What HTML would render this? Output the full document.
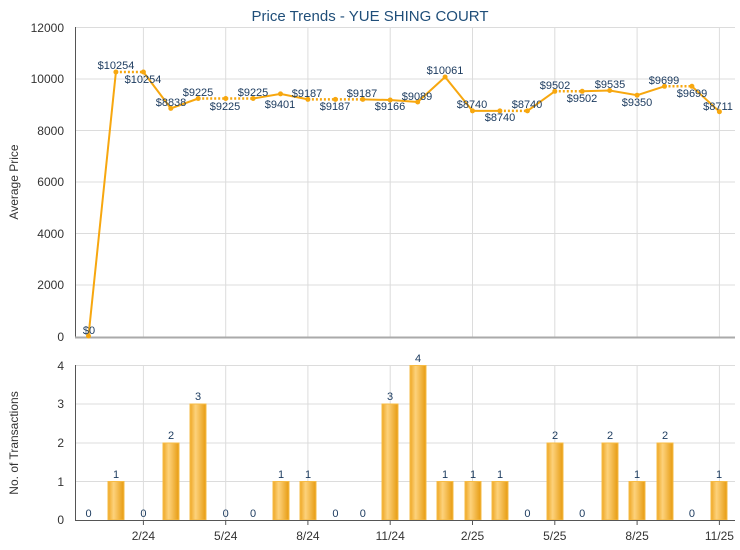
<!DOCTYPE html>
<html><head><meta charset="utf-8"><style>
body{margin:0;background:#fff;}
svg{display:block;font-family:"Liberation Sans",Arial,sans-serif;}
.t{font-size:12px;fill:#333;}
.d{font-size:11px;fill:#1b3a5e;}
</style></head><body>
<svg width="740" height="550" viewBox="0 0 740 550">
<defs>
<linearGradient id="bg" x1="0" x2="1" y1="0" y2="0">
<stop offset="0" stop-color="#eea623"/><stop offset="0.35" stop-color="#fdd27c"/><stop offset="1" stop-color="#e79b10"/>
</linearGradient>
</defs>
<text x="370" y="21" text-anchor="middle" font-size="15" fill="#1f4e79">Price Trends - YUE SHING COURT</text>
<!-- top grid -->
<g stroke="#dcdcdc" stroke-width="1">
<line x1="75" x2="735" y1="27.5" y2="27.5"/><line x1="75" x2="735" y1="79" y2="79"/><line x1="75" x2="735" y1="130.5" y2="130.5"/><line x1="75" x2="735" y1="182" y2="182"/><line x1="75" x2="735" y1="233.5" y2="233.5"/><line x1="75" x2="735" y1="285" y2="285"/>
<line x1="143.4" x2="143.4" y1="27" y2="337"/><line x1="225.7" x2="225.7" y1="27" y2="337"/><line x1="307.9" x2="307.9" y1="27" y2="337"/><line x1="390.2" x2="390.2" y1="27" y2="337"/><line x1="472.5" x2="472.5" y1="27" y2="337"/><line x1="554.8" x2="554.8" y1="27" y2="337"/><line x1="637.1" x2="637.1" y1="27" y2="337"/><line x1="719.4" x2="719.4" y1="27" y2="337"/>
</g>
<line x1="75.5" x2="75.5" y1="27" y2="338" stroke="#555"/>
<line x1="75" x2="735" y1="337.5" y2="337.5" stroke="#aaa" stroke-width="2"/>
<g class="t" text-anchor="end">
<text x="64" y="32">12000</text><text x="64" y="83">10000</text><text x="64" y="135">8000</text><text x="64" y="186">6000</text><text x="64" y="238">4000</text><text x="64" y="289">2000</text><text x="64" y="341">0</text>
</g>
<text transform="translate(18,182) rotate(-90)" text-anchor="middle" font-size="12" fill="#333">Average Price</text>
<!-- line -->
<g stroke="#f7a70f" stroke-width="2" fill="none">
<polyline points="88.5,336 115.9,72"/>
<polyline points="143.4,72 170.8,108.4 198.2,98.5"/>
<polyline points="253.1,98.5 280.5,93.9 307.9,99.4"/>
<polyline points="362.8,99.4 390.2,100 417.7,102 445.1,77 472.5,110.9 499.9,110.9"/>
<polyline points="527.4,110.9 554.8,91.3"/>
<polyline points="582.2,91.3 609.7,90.5 637.1,95.2 664.5,86.3"/>
<polyline points="691.9,86.3 719.4,111.7"/>
</g>
<g stroke="#f7a70f" stroke-width="2.5" stroke-dasharray="2,2" fill="none">
<polyline points="115.9,72 143.4,72"/>
<polyline points="198.2,98.5 253.1,98.5"/>
<polyline points="307.9,99.4 362.8,99.4"/>
<polyline points="499.9,110.9 527.4,110.9"/>
<polyline points="554.8,91.3 582.2,91.3"/>
<polyline points="664.5,86.3 691.9,86.3"/>
</g>
<g fill="#f7a70f">
<circle cx="88.5" cy="336" r="2.5"/><circle cx="115.9" cy="72" r="2.5"/><circle cx="143.4" cy="72" r="2.5"/><circle cx="170.8" cy="108.4" r="2.5"/><circle cx="198.2" cy="98.5" r="2.5"/><circle cx="225.7" cy="98.5" r="2.5"/><circle cx="253.1" cy="98.5" r="2.5"/><circle cx="280.5" cy="93.9" r="2.5"/><circle cx="307.9" cy="99.4" r="2.5"/><circle cx="335.4" cy="99.4" r="2.5"/><circle cx="362.8" cy="99.4" r="2.5"/><circle cx="390.2" cy="100" r="2.5"/><circle cx="417.7" cy="102" r="2.5"/><circle cx="445.1" cy="77" r="2.5"/><circle cx="472.5" cy="110.9" r="2.5"/><circle cx="499.9" cy="110.9" r="2.5"/><circle cx="527.4" cy="110.9" r="2.5"/><circle cx="554.8" cy="91.3" r="2.5"/><circle cx="582.2" cy="91.3" r="2.5"/><circle cx="609.7" cy="90.5" r="2.5"/><circle cx="637.1" cy="95.2" r="2.5"/><circle cx="664.5" cy="86.3" r="2.5"/><circle cx="691.9" cy="86.3" r="2.5"/><circle cx="719.4" cy="111.7" r="2.5"/>
</g>
<g class="d" text-anchor="middle">
<text x="89" y="334">$0</text>
<text x="116" y="69">$10254</text>
<text x="143" y="83">$10254</text>
<text x="171" y="106">$8838</text>
<text x="198" y="96">$9225</text>
<text x="225" y="110">$9225</text>
<text x="253" y="96">$9225</text>
<text x="280" y="108">$9401</text>
<text x="307" y="97">$9187</text>
<text x="335" y="110">$9187</text>
<text x="362" y="97">$9187</text>
<text x="390" y="110">$9166</text>
<text x="417" y="100">$9089</text>
<text x="445" y="74">$10061</text>
<text x="472" y="108">$8740</text>
<text x="500" y="121">$8740</text>
<text x="527" y="108">$8740</text>
<text x="555" y="89">$9502</text>
<text x="582" y="102">$9502</text>
<text x="610" y="88">$9535</text>
<text x="637" y="106">$9350</text>
<text x="664" y="84">$9699</text>
<text x="692" y="97">$9699</text>
<text x="718" y="110">$8711</text>
</g>
<!-- bottom chart -->
<g stroke="#dcdcdc" stroke-width="1">
<line x1="75" x2="735" y1="365.5" y2="365.5"/><line x1="75" x2="735" y1="404" y2="404"/><line x1="75" x2="735" y1="443" y2="443"/><line x1="75" x2="735" y1="481.5" y2="481.5"/>
<line x1="143.4" x2="143.4" y1="365" y2="520"/><line x1="225.7" x2="225.7" y1="365" y2="520"/><line x1="307.9" x2="307.9" y1="365" y2="520"/><line x1="390.2" x2="390.2" y1="365" y2="520"/><line x1="472.5" x2="472.5" y1="365" y2="520"/><line x1="554.8" x2="554.8" y1="365" y2="520"/><line x1="637.1" x2="637.1" y1="365" y2="520"/><line x1="719.4" x2="719.4" y1="365" y2="520"/>
</g>
<g fill="url(#bg)" stroke="#f6bb45" stroke-width="1">
<rect x="108" y="481.5" width="16" height="38.5"/>
<rect x="163" y="443" width="16" height="77"/>
<rect x="190" y="404" width="16" height="116"/>
<rect x="273" y="481.5" width="16" height="38.5"/>
<rect x="300" y="481.5" width="16" height="38.5"/>
<rect x="382" y="404" width="16" height="116"/>
<rect x="410" y="365.5" width="16" height="154.5"/>
<rect x="437" y="481.5" width="16" height="38.5"/>
<rect x="465" y="481.5" width="16" height="38.5"/>
<rect x="492" y="481.5" width="16" height="38.5"/>
<rect x="547" y="443" width="16" height="77"/>
<rect x="602" y="443" width="16" height="77"/>
<rect x="629" y="481.5" width="16" height="38.5"/>
<rect x="657" y="443" width="16" height="77"/>
<rect x="711" y="481.5" width="16" height="38.5"/>
</g>
<line x1="75.5" x2="75.5" y1="365" y2="521" stroke="#555"/>
<line x1="75" x2="735" y1="520.5" y2="520.5" stroke="#555"/>
<g stroke="#555"><line x1="143.4" x2="143.4" y1="520" y2="525"/><line x1="225.7" x2="225.7" y1="520" y2="525"/><line x1="307.9" x2="307.9" y1="520" y2="525"/><line x1="390.2" x2="390.2" y1="520" y2="525"/><line x1="472.5" x2="472.5" y1="520" y2="525"/><line x1="554.8" x2="554.8" y1="520" y2="525"/><line x1="637.1" x2="637.1" y1="520" y2="525"/><line x1="719.4" x2="719.4" y1="520" y2="525"/></g>
<g class="d" text-anchor="middle">
<text x="88.5" y="517">0</text><text x="116" y="478">1</text><text x="143.4" y="517">0</text><text x="171" y="439">2</text><text x="198" y="400">3</text><text x="225.7" y="517">0</text><text x="253" y="517">0</text><text x="281" y="478">1</text><text x="308" y="478">1</text><text x="335.4" y="517">0</text><text x="362.8" y="517">0</text><text x="390" y="400">3</text><text x="418" y="362">4</text><text x="445" y="478">1</text><text x="473" y="478">1</text><text x="500" y="478">1</text><text x="527.4" y="517">0</text><text x="555" y="439">2</text><text x="582.2" y="517">0</text><text x="610" y="439">2</text><text x="637" y="478">1</text><text x="665" y="439">2</text><text x="691.9" y="517">0</text><text x="719" y="478">1</text>
</g>
<g class="t" text-anchor="end">
<text x="64" y="370">4</text><text x="64" y="408">3</text><text x="64" y="447">2</text><text x="64" y="486">1</text><text x="64" y="524">0</text>
</g>
<g class="t" text-anchor="middle">
<text x="143.4" y="540">2/24</text><text x="225.7" y="540">5/24</text><text x="307.9" y="540">8/24</text><text x="390.2" y="540">11/24</text><text x="472.5" y="540">2/25</text><text x="554.8" y="540">5/25</text><text x="637.1" y="540">8/25</text><text x="719.4" y="540">11/25</text>
</g>
<text transform="translate(18,443) rotate(-90)" text-anchor="middle" font-size="12" fill="#333">No. of Transactions</text>
</svg>
</body></html>
